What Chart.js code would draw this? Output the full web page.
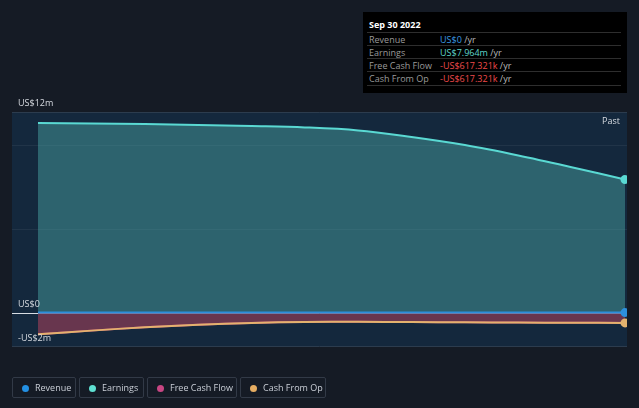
<!DOCTYPE html>
<html>
<head>
<meta charset="utf-8">
<script src="https://cdn.jsdelivr.net/npm/chart.js@4.4.0/dist/chart.umd.min.js"></script>
<style>
  html, body { margin: 0; padding: 0; background: #151b25; }
  body { width: 639px; height: 408px; position: relative; overflow: hidden; font-family: "Open Sans", sans-serif; }
  #wrap { position: absolute; left: 0; top: 0; width: 639px; height: 408px; }
  .tip { position: absolute; left: 363px; top: 12px; width: 264px; height: 81px; background: #000; color: #fff; font-size: 9px; }
  .tip .title { position: absolute; left: 6px; top: 6px; font-weight: bold; font-size: 9px; }
  .tip .row { position: absolute; left: 4px; width: 254px; height: 13px; border-top: 1px solid #2e2e2e; }
  .tip .row span { position: absolute; top: 0px; }
  .tip .lab { left: 2px; color: #9a9a9a; }
  .tip .val { left: 73px; }
  .tip .unit { color: #bbb; }
  .legend { position: absolute; top: 377px; left: 12px; font-size: 9px; color: #c9ced6; }
  .item { position: absolute; top: 0; height: 21px; border: 1px solid #323a47; border-radius: 2px; box-sizing: border-box; }
  .item i { position: absolute; left: 9px; top: 6.5px; width: 7px; height: 7px; border-radius: 50%; }
  .item span { position: absolute; left: 22px; top: 3px; white-space: nowrap; }
</style>
</head>
<body>
<div id="wrap"><canvas id="chart" width="639" height="408"></canvas></div>

<div class="tip">
  <div class="title">Sep 30 2022</div>
  <div class="row" style="top:20px"><span class="lab">Revenue</span><span class="val"><b style="font-weight:normal;color:#3b9be3">US$0</b> <span class="unit" style="position:static">/yr</span></span></div>
  <div class="row" style="top:33px"><span class="lab">Earnings</span><span class="val"><b style="font-weight:normal;color:#5fd6cb">US$7.964m</b> <span class="unit" style="position:static">/yr</span></span></div>
  <div class="row" style="top:46px"><span class="lab">Free Cash Flow</span><span class="val"><b style="font-weight:normal;color:#ef4b4b">-US$617.321k</b> <span class="unit" style="position:static">/yr</span></span></div>
  <div class="row" style="top:59px;border-bottom:1px solid #2e2e2e"><span class="lab">Cash From Op</span><span class="val"><b style="font-weight:normal;color:#ef4b4b">-US$617.321k</b> <span class="unit" style="position:static">/yr</span></span></div>
</div>

<div class="legend">
  <div class="item" style="left:0;width:64px"><i style="background:#2390e3"></i><span>Revenue</span></div>
  <div class="item" style="left:67px;width:65px"><i style="background:#5fe0d2"></i><span>Earnings</span></div>
  <div class="item" style="left:135px;width:90px"><i style="background:#c84683"></i><span>Free Cash Flow</span></div>
  <div class="item" style="left:228px;width:86px"><i style="background:#e6ad62"></i><span>Cash From Op</span></div>
</div>

<script>
// quarterly points, values in US$ millions
const quarters = ['Dec 2019', 'Mar 2020', 'Jun 2020', 'Sep 2020', 'Dec 2020', 'Mar 2021',
                  'Jun 2021', 'Sep 2021', 'Dec 2021', 'Mar 2022', 'Jun 2022', 'Sep 2022'];
const revenue = [0, 0, 0, 0, 0, 0, 0, 0, 0, 0, 0, 0];
const earnings = [11.34, 11.31, 11.28, 11.22, 11.16, 11.08, 10.9, 10.5, 10.02, 9.4, 8.7, 7.964];
const freeCashFlow = [-1.3, -1.08, -0.88, -0.73, -0.62, -0.56, -0.55, -0.57, -0.58, -0.6, -0.61, -0.617];
const cashFromOp = [-1.3, -1.08, -0.88, -0.73, -0.62, -0.56, -0.55, -0.57, -0.58, -0.6, -0.61, -0.617];
const yTicks = [12, 0, -2];
const yTickLabels = ['US$12m', 'US$0', '-US$2m'];
const gridValues = [10, 5];

const PLOT_LEFT = 12, PLOT_RIGHT = 627;

const backdrop = {
  id: 'backdrop',
  beforeDraw(chart) {
    const { ctx, chartArea } = chart;
    const y = chart.scales.y;
    ctx.save();
    ctx.fillStyle = '#151b25';
    ctx.fillRect(0, 0, chart.width, chart.height);
    ctx.fillStyle = '#14283d';
    ctx.fillRect(PLOT_LEFT, chartArea.top, PLOT_RIGHT - PLOT_LEFT, chartArea.bottom - chartArea.top);
    ctx.lineWidth = 1;
    ctx.strokeStyle = '#2c3c4e';
    [chartArea.top, chartArea.bottom].forEach(p => {
      ctx.beginPath(); ctx.moveTo(PLOT_LEFT, p + 0.5); ctx.lineTo(PLOT_RIGHT, p + 0.5); ctx.stroke();
    });
    ctx.strokeStyle = 'rgba(255,255,255,0.06)';
    gridValues.forEach(v => {
      const p = Math.round(y.getPixelForValue(v)) + 0.5;
      ctx.beginPath(); ctx.moveTo(PLOT_LEFT, p); ctx.lineTo(PLOT_RIGHT, p); ctx.stroke();
    });
    ctx.strokeStyle = '#d8dde3';
    const z = Math.round(y.getPixelForValue(0)) + 0.5;
    ctx.beginPath(); ctx.moveTo(PLOT_LEFT, z); ctx.lineTo(PLOT_RIGHT, z); ctx.stroke();
    ctx.restore();
  },
  afterDraw(chart) {
    const { ctx, chartArea } = chart;
    const y = chart.scales.y;
    ctx.save();
    ctx.font = '9px "Open Sans", sans-serif';
    ctx.fillStyle = '#d6dae0';
    ctx.textBaseline = 'bottom';
    yTicks.forEach((v, i) => {
      const p = y.getPixelForValue(v);
      ctx.fillText(yTickLabels[i], 18, i === 2 ? p - 3 : p - 4);
    });
    ctx.textAlign = 'right';
    ctx.fillText('Past', 620, chartArea.top + 14);
    ctx.restore();
  }
};

const lastOnly = r => quarters.map((_, i) => i === quarters.length - 1 ? r : 0);
const edgeClip = { left: 0, right: PLOT_RIGHT - 625, top: 5, bottom: 5 };

new Chart(document.getElementById('chart'), {
  type: 'line',
  data: {
    labels: quarters,
    datasets: [
      { label: 'Revenue', data: revenue, borderColor: '#2d8fdc', backgroundColor: '#2d8fdc',
        borderWidth: 2, pointRadius: lastOnly(3.5), pointBackgroundColor: '#2d8fdc', fill: false, clip: edgeClip, order: 1 },
      { label: 'Earnings', data: earnings, borderColor: '#5ad9d3', backgroundColor: 'rgba(76,170,170,0.45)',
        borderWidth: 2, pointRadius: lastOnly(3.5), pointBackgroundColor: '#5ad9d3', fill: 'origin', tension: 0.35, clip: edgeClip, order: 2 },
      { label: 'Free Cash Flow', data: freeCashFlow, borderColor: '#b84678', backgroundColor: 'rgba(140,60,85,0.7)',
        borderWidth: 2, pointRadius: 0, fill: 'origin', tension: 0.35, clip: edgeClip, order: 3 },
      { label: 'Cash From Op', data: cashFromOp, borderColor: '#e3b26e', backgroundColor: '#e3b26e',
        borderWidth: 2, pointRadius: lastOnly(3.5), pointBackgroundColor: '#e3b26e', fill: false, tension: 0.35, clip: edgeClip, order: 0 }
    ]
  },
  options: {
    responsive: false,
    animation: false,
    layout: { padding: { left: 38, right: 639 - 625, top: 112, bottom: 408 - 346 } },
    plugins: { legend: { display: false }, tooltip: { enabled: false } },
    scales: {
      x: { display: false, offset: false },
      y: { display: false, min: -2, max: 12 }
    }
  },
  plugins: [backdrop]
});
</script>
</body>
</html>
